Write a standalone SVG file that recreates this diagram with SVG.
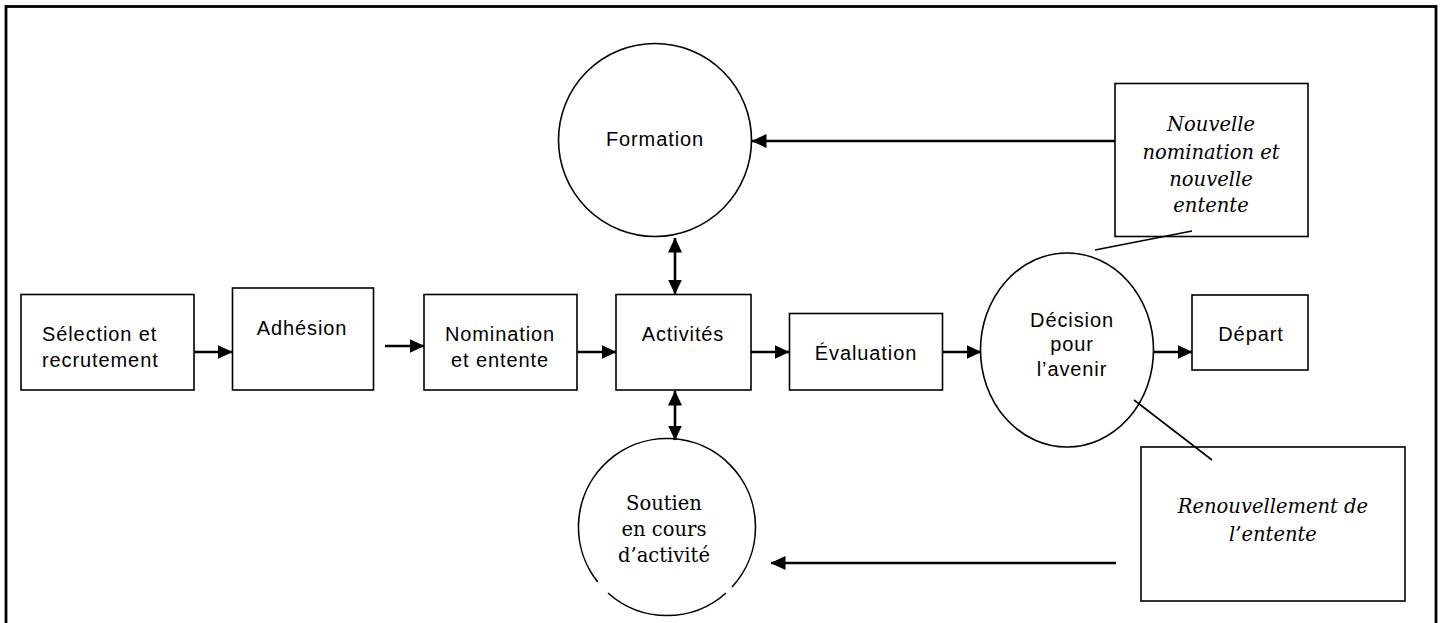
<svg xmlns="http://www.w3.org/2000/svg" width="1443" height="623" viewBox="0 0 1443 623">
<style>
.box{fill:#fff;stroke:#000;stroke-width:1.6}
.sans{font-family:"Liberation Sans",Arial,sans-serif;font-size:20px;letter-spacing:0.9px;fill:#000}
.serif{font-family:"DejaVu Serif","Liberation Serif",serif;font-size:19.5px;fill:#000}
.it{font-style:italic}
.mid{text-anchor:middle}
.arr{stroke:#000;stroke-width:2.6;fill:none}
.thin{stroke:#000;stroke-width:1.6;fill:none}
</style>
<defs>
<marker id="ah" viewBox="0 0 15 14" refX="14.5" refY="7" markerWidth="15" markerHeight="14" markerUnits="userSpaceOnUse" orient="auto-start-reverse">
<path d="M0,0 L15,7 L0,14 z" fill="#000"/>
</marker>
</defs>
<rect x="6" y="6.5" width="1430" height="700" fill="#fff" stroke="#000" stroke-width="2.8"/>

<g id="selection">
<rect class="box" x="21" y="294.5" width="173" height="95.5"/>
<text class="sans" x="42" y="341">Sélection et</text>
<text class="sans" x="42" y="367">recrutement</text>
</g>
<g id="adhesion">
<rect class="box" x="232.5" y="288" width="141" height="102"/>
<text class="sans mid" x="302" y="335">Adhésion</text>
</g>
<g id="nomination">
<rect class="box" x="424" y="294.5" width="153" height="95.5"/>
<text class="sans mid" x="500" y="341">Nomination</text>
<text class="sans mid" x="500" y="367">et entente</text>
</g>
<g id="activites">
<rect class="box" x="616" y="294.5" width="135" height="95.5"/>
<text class="sans mid" x="683" y="341">Activités</text>
</g>
<g id="evaluation">
<rect class="box" x="789.5" y="313.5" width="153" height="76.5"/>
<text class="sans mid" x="866" y="360">Évaluation</text>
</g>
<g id="decision">
<ellipse class="box" cx="1067" cy="350" rx="86.5" ry="97"/>
<text class="sans mid" x="1072" y="327">Décision</text>
<text class="sans mid" x="1072" y="351">pour</text>
<text class="sans mid" x="1072" y="376">l’avenir</text>
</g>
<g id="depart">
<rect class="box" x="1192" y="295" width="116" height="75"/>
<text class="sans mid" x="1251" y="341">Départ</text>
</g>
<g id="formation">
<circle class="box" cx="655" cy="140" r="96.5"/>
<text class="sans mid" x="655" y="146">Formation</text>
</g>
<g id="soutien">
<path class="thin" d="M 597.7 582 A 88.5 88.5 0 1 1 732 587 M 726 593 A 88.5 88.5 0 0 1 608 593"/>
<text class="serif mid" x="664" y="510">Soutien</text>
<text class="serif mid" x="664" y="536">en cours</text>
<text class="serif mid" x="664" y="562">d’activité</text>
</g>
<g id="nouvelle">
<rect class="box" x="1115" y="83.5" width="193" height="153"/>
<text class="serif it mid" x="1211" y="131">Nouvelle</text>
<text class="serif it mid" x="1211" y="159">nomination et</text>
<text class="serif it mid" x="1211" y="186">nouvelle</text>
<text class="serif it mid" x="1211" y="212">entente</text>
</g>
<g id="renouvellement">
<rect class="box" x="1141" y="447" width="264" height="154"/>
<text class="serif it mid" x="1273" y="513">Renouvellement de</text>
<text class="serif it mid" x="1273" y="541">l’entente</text>
</g>

<g id="connectors">
<line class="arr" x1="194" y1="352" x2="232" y2="352" marker-end="url(#ah)"/>
<line class="arr" x1="385" y1="346" x2="424" y2="346" marker-end="url(#ah)"/>
<line class="arr" x1="577" y1="352" x2="616" y2="352" marker-end="url(#ah)"/>
<line class="arr" x1="751" y1="352" x2="789" y2="352" marker-end="url(#ah)"/>
<line class="arr" x1="943" y1="352" x2="981" y2="352" marker-end="url(#ah)"/>
<line class="arr" x1="1154" y1="352" x2="1192" y2="352" marker-end="url(#ah)"/>
<line class="arr" x1="675" y1="238" x2="675" y2="294" marker-start="url(#ah)" marker-end="url(#ah)"/>
<line class="arr" x1="675" y1="391" x2="675" y2="440" marker-start="url(#ah)" marker-end="url(#ah)"/>
<line class="arr" x1="1115" y1="141" x2="752" y2="141" marker-end="url(#ah)"/>
<line class="arr" x1="1116" y1="563" x2="771" y2="563" marker-end="url(#ah)"/>
<line class="thin" x1="1095" y1="250" x2="1192" y2="231"/>
<line class="thin" x1="1134" y1="400" x2="1212" y2="460"/>
</g>
</svg>
